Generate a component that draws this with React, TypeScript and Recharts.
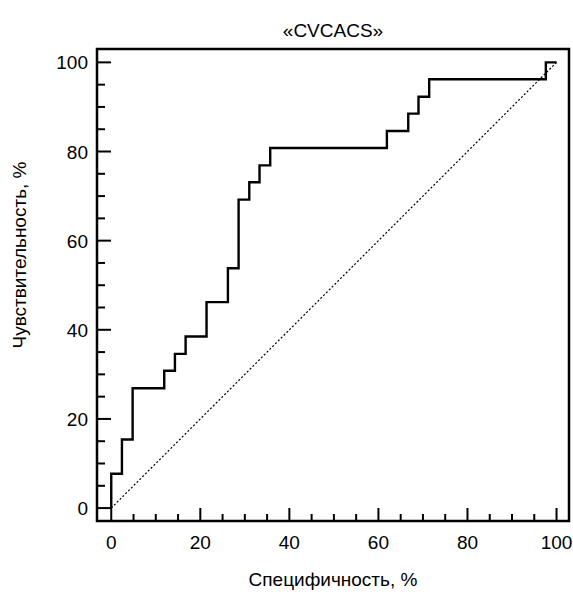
import { Label, Line, LineChart, ReferenceArea, XAxis, YAxis } from "recharts";

// ROC curve points (100 - specificity, sensitivity)
const fpr = [0, 0, 2.4, 4.8, 11.9, 14.3, 16.7, 21.4, 26.2, 28.6, 31.0, 33.3, 35.7, 61.9, 66.7, 69.0, 71.4, 97.6, 100];
const tpr = [0, 7.7, 15.4, 26.9, 30.8, 34.6, 38.5, 46.2, 53.8, 69.2, 73.1, 76.9, 80.8, 84.6, 88.5, 92.3, 96.2, 100, 100];

// reference diagonal
const chanceX = [0, 100];
const chanceY = [0, 100];

const tickValues = [0, 5, 10, 15, 20, 25, 30, 35, 40, 45, 50, 55, 60, 65, 70, 75, 80, 85, 90, 95, 100];
const labeledTicks = [0, 20, 40, 60, 80, 100];

const xDomain = [-3.2, 102.8];
const yDomain = [-2.9, 103];

const rocData = fpr.map((x, i) => ({ x, y: tpr[i] }));
const chanceData = chanceX.map((x, i) => ({ x, y: chanceY[i] }));

const font = '"Liberation Sans", Arial, sans-serif';
const fontSize = 19;

const W = 573;
const H = 594;
const margin = { top: 49, right: 4, bottom: 0, left: 0 };
const yAxisWidth = 97;
const xAxisHeight = 73;
const plotLeft = margin.left + yAxisWidth;
const plotBottom = H - margin.bottom - xAxisHeight;
// pixels per data unit, only to turn tick lengths (px) into data units
const xPx = (W - margin.right - plotLeft) / (xDomain[1] - xDomain[0]);
const yPx = (plotBottom - margin.top) / (yDomain[1] - yDomain[0]);

// inward tick marks, drawn as short series so they sit inside the frame
const xTickMarks = tickValues.map((v) => [
  { x: v, y: yDomain[0] },
  { x: v, y: yDomain[0] + (labeledTicks.includes(v) ? 13 : 7) / yPx },
]);
const yTickMarks = tickValues.map((v) => [
  { x: xDomain[0], y: v },
  { x: xDomain[0] + (labeledTicks.includes(v) ? 14 : 8) / xPx, y: v },
]);

function XTick(props: any) {
  const { x, payload } = props;
  const v = payload.value;
  if (!labeledTicks.includes(v)) return <g />;
  return (
    <text x={x} y={plotBottom + 28} textAnchor="middle" fontFamily={font} fontSize={fontSize} fill="#000">
      {v}
    </text>
  );
}

function YTick(props: any) {
  const { y, payload } = props;
  const v = payload.value;
  if (!labeledTicks.includes(v)) return <g />;
  return (
    <text x={plotLeft - 9} y={y + 7} textAnchor="end" fontFamily={font} fontSize={fontSize} fill="#000">
      {v}
    </text>
  );
}

export default function App() {
  return (
    <div style={{ width: W, height: H, background: "#fff" }}>
      <style>{`body{margin:0}`}</style>
      <LineChart width={W} height={H} margin={margin}>
        <XAxis
          dataKey="x"
          type="number"
          domain={xDomain}
          ticks={tickValues}
          interval={0}
          tickLine={false}
          axisLine={false}
          height={xAxisHeight}
          allowDataOverflow
          tick={(p: any) => <XTick {...p} />}
        >
          <Label
            content={({ viewBox }: any) => (
              <text
                x={viewBox.x + viewBox.width / 2}
                y={plotBottom + 65}
                textAnchor="middle"
                fontFamily={font}
                fontSize={fontSize}
                fill="#000"
              >
                Специфичность, %
              </text>
            )}
          />
        </XAxis>
        <YAxis
          type="number"
          domain={yDomain}
          ticks={tickValues}
          interval={0}
          tickLine={false}
          axisLine={false}
          width={yAxisWidth}
          allowDataOverflow
          tick={(p: any) => <YTick {...p} />}
        >
          <Label
            content={() => (
              <text
                x={26}
                y={255}
                transform="rotate(-90 26 255)"
                textAnchor="middle"
                fontFamily={font}
                fontSize={fontSize}
                fill="#000"
              >
                Чувствительность, %
              </text>
            )}
          />
        </YAxis>
        <ReferenceArea
          x1={xDomain[0]}
          x2={xDomain[1]}
          y1={yDomain[0]}
          y2={yDomain[1]}
          fill="none"
          fillOpacity={0}
          stroke="#000"
          strokeWidth={2.5}
          ifOverflow="visible"
        >
          <Label
            content={({ viewBox }: any) => (
              <text
                x={viewBox.x + viewBox.width / 2}
                y={37}
                textAnchor="middle"
                fontFamily={font}
                fontSize={fontSize}
                fill="#000"
              >
                «CVCACS»
              </text>
            )}
          />
        </ReferenceArea>
        {xTickMarks.map((d, i) => (
          <Line
            key={"xt" + i}
            data={d}
            dataKey="y"
            type="linear"
            stroke="#000"
            strokeWidth={2}
            dot={false}
            activeDot={false}
            isAnimationActive={false}
          />
        ))}
        {yTickMarks.map((d, i) => (
          <Line
            key={"yt" + i}
            data={d}
            dataKey="y"
            type="linear"
            stroke="#000"
            strokeWidth={2}
            dot={false}
            activeDot={false}
            isAnimationActive={false}
          />
        ))}
        <Line
          data={chanceData}
          dataKey="y"
          type="linear"
          stroke="#000"
          strokeWidth={1.2}
          strokeDasharray="2 2"
          dot={false}
          activeDot={false}
          isAnimationActive={false}
        />
        <Line
          data={rocData}
          dataKey="y"
          type="stepAfter"
          stroke="#000"
          strokeWidth={2.4}
          strokeLinejoin="miter"
          dot={false}
          activeDot={false}
          isAnimationActive={false}
        />
      </LineChart>
    </div>
  );
}
